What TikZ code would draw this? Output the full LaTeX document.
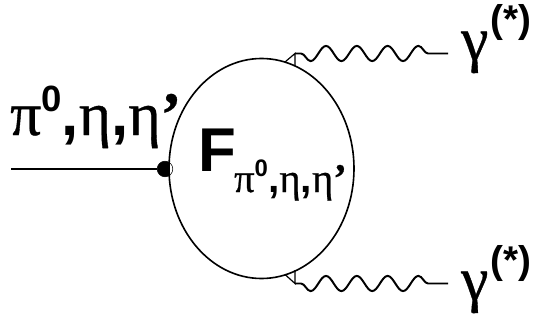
\documentclass[tikz,border=0pt]{standalone}
\usepackage{fontspec}
\usetikzlibrary{decorations.pathmorphing,shapes.geometric}
\setmainfont[FakeBold=0.6]{Liberation Serif}
\newfontfamily\arialbold[BoldFont=Liberation Sans Bold]{Liberation Sans}
\newcommand{\gksize}{\fontsize{88}{88}\selectfont}
\newcommand{\subsize}{\fontsize{58}{58}\selectfont}
\newcommand{\supb}[2]{\raisebox{#2}{\arialbold\bfseries #1}}
\newcommand{\cmb}{{\arialbold\bfseries ,}}
\tikzset{
  lab/.style={inner sep=0pt,anchor=base west},
  photon/.style={line width=2.8pt,decorate,decoration={snake,mirror,segment length=15.4mm,amplitude=3.8mm,pre length=3mm,post length=4.2mm}},
  stub/.style={line width=1.7pt}
}
\begin{document}
\begin{tikzpicture}[x=0.5mm,y=0.5mm]
  \useasboundingbox (0,0) rectangle (535,321);
  % vertex, half hidden by the blob
  \node[circle,fill=black,minimum size=7.8mm,inner sep=0pt] (vert) at (165,152) {};
  % form factor blob
  \node[draw,fill=white,ellipse,line width=2.3pt,minimum width=92.5mm,minimum height=110mm,inner sep=0pt] (blob) at (261.5,152.5) {};
  \node[circle,draw,line width=0.8pt,minimum size=7.8mm,inner sep=0pt] (ring) at (165,152) {};
  % meson line
  \coordinate (mstart) at (11,152);
  \draw[line width=3.6pt] (mstart) -- (vert);
  \node[lab] (meson) at (10,186) {\gksize π\supb{\fontsize{52}{52}\selectfont 0}{11.5mm}\cmb η\cmb η\textbf{’}};
  \node[lab] (ff) at (198,150) {\fontsize{88}{88}\selectfont\arialbold\bfseries F};
  \node[lab] (ffsub) at (234,129) {\subsize π\supb{\fontsize{34}{34}\selectfont 0}{8mm}\cmb η\cmb η\textbf{’}};
  % upper photon
  \coordinate (a1) at (295,267.5);
  \coordinate (a2) at (448,267.5);
  \coordinate (a3) at (285,259);
  \coordinate (a4) at (295,255);
  \draw[photon] (a1) -- (a2);
  \draw[stub] (a3) -- (a1) -- (a4);
  \node[lab] (g1) at (461,261) {\gksize γ\hspace{3pt}\supb{\fontsize{55}{55}\selectfont (*)}{13.5mm}};
  % lower photon
  \coordinate (b1) at (295,37.5);
  \coordinate (b2) at (448,37.5);
  \coordinate (b3) at (285,46.5);
  \coordinate (b4) at (295,51);
  \draw[photon] (b1) -- (b2);
  \draw[stub] (b3) -- (b1) -- (b4);
  \node[lab] (g2) at (461,21) {\gksize γ\hspace{3pt}\supb{\fontsize{55}{55}\selectfont (*)}{13.5mm}};
\end{tikzpicture}
\end{document}
